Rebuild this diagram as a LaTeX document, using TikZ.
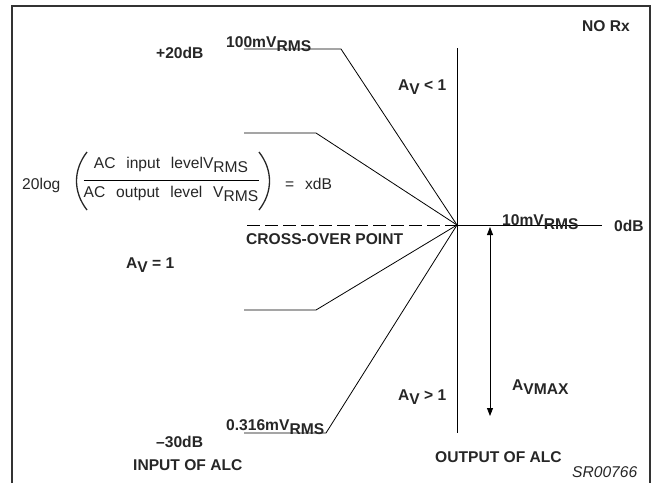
\documentclass[tikz,border=0pt]{standalone}
\usepackage{fontspec}
\setmainfont{Liberation Sans}
\usetikzlibrary{arrows.meta}
\newcommand{\dn}[1]{\raisebox{-4.5pt}{#1}}
\newcommand{\wgap}{\hspace{10.8pt}}

\begin{document}
\begin{tikzpicture}[
        x=1pt, y=-1pt,
        every node/.style={inner sep=0pt, anchor=base west, text=black!85},
        lbl/.style={font=\fontsize{15.6}{18}\selectfont\bfseries},
        txt/.style={font=\fontsize{15.6}{18}\selectfont},
        trace/.style={draw, line width=0.8pt},
        frame/.style={draw=black!80, line width=2.5pt},
        paren/.style={draw=black!85, line width=1.3pt},
        gaintip/.tip={Triangle[length=8pt, width=6pt]},
    ]
    \useasboundingbox (0,0) rectangle (656,483);
    \draw[frame] (12,483) -- (12,6) -- (650,6) -- (650,483);

    % cross-over point and axis
    \coordinate (xo) at (457,225);
    \coordinate (axtop) at (457,48);
    \coordinate (axbot) at (457,433);
    \coordinate (zeroend) at (602,225);
    \coordinate (dashstart) at (247,225);
    % input traces
    \coordinate (t0) at (244,49);  \coordinate (t1) at (341,49);
    \coordinate (u0) at (244,133); \coordinate (u1) at (316,133);
    \coordinate (l0) at (244,310); \coordinate (l1) at (316,310);
    \coordinate (b0) at (244,433); \coordinate (b1) at (326,433);
    % gain arrow
    \coordinate (amtop) at (490,227);
    \coordinate (ambot) at (490,416);

    \draw[trace] (axtop) -- (axbot);
    \draw[trace] (xo) -- (zeroend);
    \draw[trace, dash pattern=on 13pt off 5pt] (dashstart) -- (xo);
    \draw[trace] (t0) -- (t1) -- (xo);
    \draw[trace] (u0) -- (u1) -- (xo);
    \draw[trace] (l0) -- (l1) -- (xo);
    \draw[trace] (b0) -- (b1) -- (xo);
    \draw[trace, gaintip-gaintip] (amtop) -- (ambot);

    % formula
    \node[txt](log) at (22,189){20log};
    \node[txt, anchor=base](num) at (171,168){AC\wgap input\wgap levelV\dn{RMS}};
    \node[txt, anchor=base](den) at (171,197){AC\wgap output\wgap level\wgap V\dn{RMS}};
    \coordinate (bar) at (171,180);
    \draw[trace] (den.west |- bar) -- (den.east |- bar);
    \draw[paren] (87,152) .. controls (73,170) and (73,192) .. (87,210);
    \draw[paren] (259,152) .. controls (273,170) and (273,192) .. (259,210);
    \node[txt](xdb) at (285,189){=\wgap xdB};

    \node[lbl](norx) at (582,31){NO Rx};
    \node[lbl](plus20) at (156,58){+20dB};
    \node[lbl](v100) at (226,47){100mV\dn{RMS}};
    \node[lbl](avlt) at (398,90){A\dn{V} < 1};
    \node[lbl](cross) at (246,244){CROSS-OVER POINT};
    \node[lbl](v10) at (502,225){10mV\dn{RMS}};
    \node[lbl](zerodb) at (614,231){0dB};
    \node[lbl](aveq) at (126,268){A\dn{V} = 1};
    \node[lbl](avgt) at (398,400){A\dn{V} > 1};
    \node[lbl](avmax) at (512,390){A\dn{VMAX}};
    \node[lbl](v0316) at (226,430){0.316mV\dn{RMS}};
    \node[lbl](minus30) at (156,447){--30dB};
    \node[lbl](inalc) at (133,470){INPUT OF ALC};
    \node[lbl](outalc) at (435,462){OUTPUT OF ALC};
    \node[txt, font=\fontsize{15.6}{18}\selectfont\itshape](code) at (572,477){SR00766};
\end{tikzpicture}
\end{document}
